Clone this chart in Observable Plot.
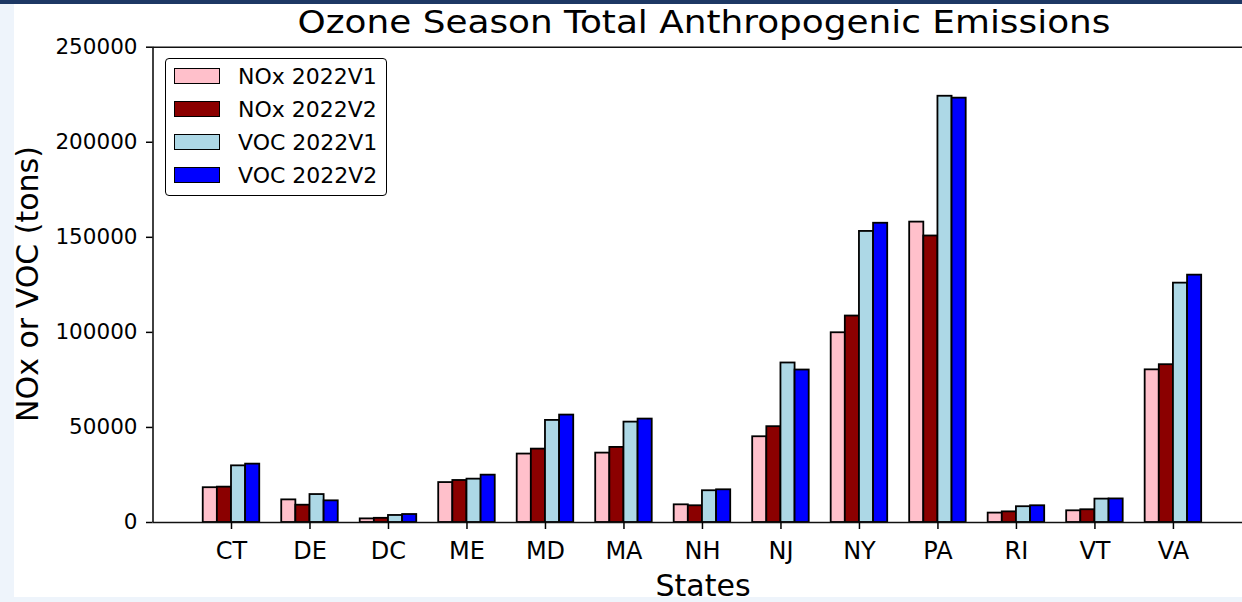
<!DOCTYPE html>
<html><head><meta charset="utf-8">
<script src="https://cdn.jsdelivr.net/npm/d3@7"></script>
<script src="https://cdn.jsdelivr.net/npm/@observablehq/plot@0.6"></script>
<style>
html,body{margin:0;padding:0;width:1242px;height:602px;overflow:hidden;background:#eef4fb;font-family:"DejaVu Sans",sans-serif;}
#topbar{position:absolute;left:0;top:0;width:1242px;height:4px;background:#1d3864;}
#panel{position:absolute;left:14px;top:4px;width:1228px;height:593px;background:#fff;}
#chart{position:absolute;left:0;top:0;width:1242px;height:602px;}
.t{position:absolute;line-height:1;white-space:nowrap;color:#000;font-family:"DejaVu Sans",sans-serif;}
#legend{position:absolute;left:165px;top:57.5px;width:222px;height:138.5px;box-sizing:border-box;border:1.5px solid #000;border-radius:4px;background:#fff;}
.sw{position:absolute;box-sizing:border-box;border:1.5px solid #000;width:46px;height:16px;}
</style></head><body>
<div id="topbar"></div><div id="panel"></div>
<div id="chart"></div>
<script>
// ---- data ----
const states = ["CT","DE","DC","ME","MD","MA","NH","NJ","NY","PA","RI","VT","VA"];
const seriesNames = ["NOx 2022V1","NOx 2022V2","VOC 2022V1","VOC 2022V2"];
const noxV1 = [18300, 11900, 1900, 21000, 36000, 36500, 9300, 45100, 99800, 158000, 4950, 6150, 80300];
const noxV2 = [18600, 9100, 2200, 22100, 38600, 39500, 8800, 50400, 108600, 150700, 5600, 6700, 83000];
const vocV1 = [29800, 14700, 3700, 22800, 53700, 52800, 16700, 83900, 153100, 224200, 8300, 12300, 125900];
const vocV2 = [30700, 11400, 4200, 24900, 56500, 54400, 17200, 80200, 157400, 223200, 8800, 12400, 130100];
const yTicks = [0, 50000, 100000, 150000, 200000, 250000];
const titleText = "Ozone Season Total Anthropogenic Emissions";
const xLabel = "States";
const yLabel = "NOx or VOC (tons)";

// ---- styles ----
const colors = ["#ffc0cb", "#8b0000", "#add8e6", "#0000ff"];
const barWidth = 0.18;

const seriesValues = [noxV1, noxV2, vocV1, vocV2];
const rows = [];
seriesValues.forEach((vals, j) => {
  vals.forEach((v, i) => {
    rows.push({state: states[i], series: seriesNames[j], value: v, pos: i + (j - 1.5) * barWidth});
  });
});

const chart = Plot.plot({
  width: 1242,
  height: 602,
  marginLeft: 152.5,
  marginRight: 0,
  marginTop: 46.7,
  marginBottom: 80,
  style: {background: "transparent", color: "#000", fontFamily: "DejaVu Sans, sans-serif", maxWidth: "none"},
  x: {type: "linear", domain: [-1, 12.88]},
  y: {domain: [0, 250000]},
  color: {domain: seriesNames, range: colors},
  marks: [
    Plot.rect(rows, {
      x1: d => d.pos - barWidth / 2,
      x2: d => d.pos + barWidth / 2,
      y1: 0,
      y2: "value",
      fill: "series",
      stroke: "#000",
      strokeWidth: 1.8
    }),
    Plot.ruleY([0, 250000], {stroke: "#111", strokeWidth: 1.6}),
    Plot.ruleX([-1], {stroke: "#111", strokeWidth: 1.6}),
    Plot.axisX({
      ticks: states.map((_, i) => i),
      tickFormat: i => states[i],
      fontSize: 24,
      tickSize: 7,
      tickPadding: 12,
      strokeWidth: 1.5,
      label: null
    }),
    Plot.axisY({
      ticks: yTicks,
      tickFormat: d => String(d),
      fontSize: 21.5,
      tickSize: 6.5,
      tickPadding: 9,
      strokeWidth: 1.5,
      label: null
    })
  ]
});
document.getElementById("chart").appendChild(chart);

// ---- title & axis labels ----
function addText(txt, fs, left, baseline, extra) {
  const d = document.createElement("div");
  d.className = "t";
  d.textContent = txt;
  d.style.fontSize = fs + "px";
  d.style.left = left + "px";
  d.style.top = (baseline - 0.846 * fs) + "px";
  if (extra) Object.assign(d.style, extra);
  document.body.appendChild(d);
  return d;
}
// Title centered at x ~704
addText(titleText, 32, 0, 33.5, {width: "1408px", textAlign: "center", transform: "scaleX(1.12)", transformOrigin: "704px 0"});
addText(xLabel, 30, 0, 596, {width: "1406px", textAlign: "center"});
// y label rotated
addText(yLabel, 30, 27.6 - 200, 284.3 - 15 + 0.846 * 30, {width: "400px", textAlign: "center", transform: "rotate(-90deg)", transformOrigin: "200px 15px"});

// ---- legend ----
const lg = document.createElement("div");
lg.id = "legend";
document.body.appendChild(lg);
seriesNames.forEach((name, j) => {
  const cy = 76 + j * 33;
  const sw = document.createElement("div");
  sw.className = "sw";
  sw.style.left = "174px";
  sw.style.top = (cy - 8) + "px";
  sw.style.background = colors[j];
  document.body.appendChild(sw);
  addText(name, 22, 238, cy + 8.5);
});
</script>
</body></html>
